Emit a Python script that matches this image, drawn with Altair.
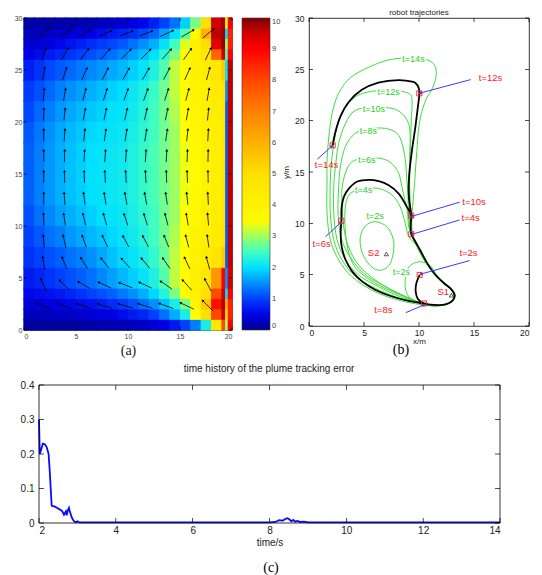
import altair as alt
import pandas as pd
import numpy as np

FONT = "Liberation Sans"
SERIF = "Liberation Serif"

# ---------------- (a) concentration field ----------------
heat_x_edges = [0, 1, 2, 3, 4, 5, 6, 7, 8, 9, 10, 11, 12, 13, 14, 15, 16, 17, 18, 19, 19.35, 19.6, 20]
heat_y_edges = [0, 1, 2, 3, 4, 6, 8, 10, 12, 14, 16, 18, 20, 22, 24, 26, 27, 28, 29, 30]
heat_values = [  # bottom row first; one value per x cell
    [0.1, 0.1, 0.1, 0.1, 0.1, 0.12, 0.15, 0.18, 0.2, 0.22, 0.25, 0.3, 0.4, 0.5, 0.7, 1.0, 1.4, 2.2, 4.5, 8.0, 3.0, 9.0],
    [0.25, 0.25, 0.28, 0.3, 0.32, 0.35, 0.4, 0.45, 0.5, 0.6, 0.7, 0.8, 1.0, 1.3, 1.7, 2.2, 3.3, 5.0, 8.0, 9.5, 5.0, 8.5],
    [0.4, 0.42, 0.45, 0.5, 0.55, 0.6, 0.65, 0.75, 0.85, 0.95, 1.1, 1.3, 1.5, 1.8, 2.2, 2.8, 3.8, 5.5, 8.8, 9.7, 6.0, 8.5],
    [0.55, 0.6, 0.65, 0.7, 0.8, 0.9, 1.0, 1.1, 1.2, 1.35, 1.5, 1.7, 1.95, 2.3, 2.8, 3.4, 4.2, 5.0, 8.0, 9.5, 2.0, 9.0],
    [0.7, 0.8, 0.9, 1.0, 1.1, 1.2, 1.3, 1.45, 1.6, 1.75, 1.9, 2.05, 2.25, 2.6, 3.1, 3.5, 4.2, 4.6, 6.5, 9.0, 1.5, 9.5],
    [0.9, 1.0, 1.1, 1.2, 1.3, 1.4, 1.5, 1.65, 1.8, 1.95, 2.05, 2.2, 2.4, 2.7, 3.1, 3.5, 4.0, 4.3, 4.8, 5.5, 1.2, 9.6],
    [1.0, 1.15, 1.3, 1.4, 1.55, 1.65, 1.75, 1.85, 1.95, 2.05, 2.15, 2.3, 2.5, 2.75, 3.05, 3.4, 3.9, 4.2, 4.4, 4.8, 1.2, 9.6],
    [1.1, 1.3, 1.45, 1.6, 1.7, 1.8, 1.9, 2.0, 2.05, 2.1, 2.2, 2.35, 2.5, 2.75, 3.0, 3.3, 3.7, 4.1, 4.3, 4.6, 1.2, 9.6],
    [1.2, 1.4, 1.55, 1.7, 1.8, 1.9, 2.0, 2.05, 2.1, 2.15, 2.25, 2.4, 2.55, 2.75, 3.0, 3.25, 3.6, 4.0, 4.2, 4.5, 1.2, 9.6],
    [1.2, 1.4, 1.55, 1.7, 1.8, 1.9, 2.0, 2.05, 2.1, 2.15, 2.25, 2.4, 2.55, 2.75, 3.0, 3.25, 3.5, 3.9, 4.2, 4.5, 1.2, 9.6],
    [1.2, 1.4, 1.55, 1.7, 1.8, 1.9, 2.0, 2.05, 2.1, 2.15, 2.25, 2.4, 2.55, 2.75, 3.0, 3.25, 3.6, 4.0, 4.2, 4.5, 1.2, 9.6],
    [1.15, 1.35, 1.5, 1.65, 1.75, 1.85, 1.95, 2.0, 2.05, 2.1, 2.2, 2.35, 2.5, 2.75, 3.0, 3.3, 3.7, 4.0, 4.2, 4.5, 1.2, 9.6],
    [1.05, 1.25, 1.4, 1.55, 1.65, 1.75, 1.85, 1.92, 2.0, 2.05, 2.15, 2.3, 2.5, 2.75, 3.05, 3.4, 3.8, 4.1, 4.3, 4.6, 1.2, 9.6],
    [0.95, 1.1, 1.25, 1.4, 1.5, 1.6, 1.7, 1.8, 1.9, 1.98, 2.1, 2.25, 2.45, 2.75, 3.1, 3.5, 3.9, 4.2, 4.4, 4.7, 1.5, 9.6],
    [0.75, 0.9, 1.05, 1.15, 1.25, 1.35, 1.45, 1.55, 1.65, 1.75, 1.9, 2.05, 2.25, 2.6, 3.1, 3.5, 4.0, 4.3, 4.6, 5.5, 2.0, 9.6],
    [0.5, 0.6, 0.7, 0.8, 0.9, 1.0, 1.1, 1.2, 1.3, 1.45, 1.6, 1.8, 2.0, 2.35, 2.8, 3.4, 4.0, 4.6, 7.5, 9.5, 2.5, 9.0],
    [0.35, 0.4, 0.45, 0.55, 0.65, 0.75, 0.85, 0.95, 1.05, 1.15, 1.3, 1.5, 1.7, 2.05, 2.5, 3.2, 4.0, 5.0, 9.3, 9.9, 3.0, 8.5],
    [0.22, 0.25, 0.3, 0.35, 0.4, 0.45, 0.5, 0.6, 0.7, 0.8, 0.9, 1.05, 1.25, 1.6, 2.0, 2.6, 3.6, 6.0, 9.6, 9.8, 2.0, 8.5],
    [0.12, 0.12, 0.12, 0.15, 0.15, 0.18, 0.2, 0.25, 0.3, 0.35, 0.45, 0.55, 0.75, 1.0, 1.3, 1.9, 2.8, 5.0, 9.5, 9.8, 4.0, 9.0],
]
cbar_stops = [0, 0.5, 1.0, 1.5, 2.0, 2.5, 3.0, 3.3, 5.0, 6.0, 7.0, 8.0, 9.0, 9.5, 10]
cbar_colors = ["#00008f", "#0000e6", "#0040ff", "#0090ff", "#00e0ff", "#40ffc0", "#a0ff60",
               "#ffff00", "#ffe000", "#ffb000", "#ff8000", "#ff4800", "#ff0000", "#d00000", "#800000"]
cbar_ticks = [0, 1, 2, 3, 4, 5, 6, 7, 8, 9, 10]

# velocity arrows: centres and directions (degrees, counter-clockwise from +x)
arrow_x = [1.9, 3.9, 5.8, 7.8, 9.8, 11.7, 13.7, 15.7, 17.7]
arrow_y = [2.3, 4.3, 6.4, 8.5, 10.6, 12.6, 14.7, 16.7, 18.7, 20.7, 22.6, 24.6, 26.5, 28.5]
arrow_len = [1.4, 1.3, 1.2, 1.15, 1.1, 1.1, 1.1, 1.1, 1.1, 1.1, 1.15, 1.2, 1.25, 1.3]
arrow_angle = [
    [158, 160, 162, 163, 163, 162, 160, 155, 135],
    [115, 135, 150, 155, 158, 155, 145, 132, 118],
    [100, 112, 122, 128, 132, 130, 125, 115, 105],
    [95, 103, 110, 115, 118, 118, 112, 105, 98],
    [92, 98, 103, 106, 108, 107, 104, 100, 95],
    [90, 94, 97, 99, 100, 100, 98, 96, 93],
    [90, 91, 92, 93, 93, 93, 92, 92, 91],
    [90, 88, 87, 86, 86, 86, 87, 88, 89],
    [89, 86, 84, 82, 81, 81, 82, 84, 87],
    [88, 84, 80, 78, 77, 77, 78, 80, 84],
    [85, 80, 75, 72, 70, 70, 72, 75, 80],
    [80, 72, 66, 62, 60, 60, 62, 66, 75],
    [70, 60, 52, 48, 45, 45, 48, 55, 65],
    [45, 35, 28, 25, 22, 22, 25, 30, 40],
]
a_xticks = [0, 5, 10, 15, 20]
a_yticks = [0, 5, 10, 15, 20, 25, 30]

# ---------------- (b) robot trajectories ----------------
tail_x = [9.8, 10.5, 11.3, 12.2, 12.9, 13.2, 13.0, 12.3, 11.3]
tail_y = [7.8, 6.4, 5.2, 4.3, 3.6, 3.0, 2.4, 2.05, 1.98]
c14_x = [10.3, 7.85, 5.7, 3.9, 2.7, 1.94, 1.64, 1.64, 1.64, 1.8, 2.1, 2.7, 3.9, 6.3, 8.0, 9.8, 11.0, 11.5, 11.55, 11.2, 10.7, 10.3, 10.0, 9.8, 9.6, 9.45, 9.35, 9.4]
c14_y = [2.05, 2.6, 3.5, 4.8, 6.43, 8.4, 11.0, 14.2, 16.2, 18.4, 20.7, 22.66, 24.3, 25.6, 26.05, 26.1, 25.8, 25.2, 24.3, 23.1, 22.2, 21.0, 19.5, 17.0, 14.0, 12.0, 10.5, 9.0]
c12_x = [10.3, 8.0, 6.03, 4.2, 3.0, 2.25, 1.94, 1.94, 2.1, 2.55, 3.3, 4.5, 6.0, 7.5, 9.06, 9.36, 9.3, 9.2, 9.15, 9.2, 9.2, 9.3]
c12_y = [2.15, 2.8, 3.67, 4.87, 6.43, 8.4, 11.0, 14.2, 16.5, 19.4, 21.35, 22.5, 22.9, 23.0, 22.66, 22.0, 20.0, 17.0, 14.0, 12.0, 10.5, 9.0]
c10_x = [10.3, 8.15, 6.33, 4.5, 3.3, 2.55, 2.25, 2.25, 2.4, 2.7, 3.3, 4.2, 5.9, 7.55, 8.45, 9.06, 9.2, 9.15, 9.1, 9.15, 9.15, 9.25]
c10_y = [2.2, 2.92, 3.83, 4.97, 6.5, 8.4, 11.0, 13.56, 15.5, 17.8, 19.7, 21.0, 21.3, 21.2, 20.7, 19.7, 18.4, 16.0, 14.0, 12.0, 10.5, 9.0]
c8_x = [10.3, 8.45, 6.64, 4.97, 3.75, 2.94, 2.64, 2.7, 2.85, 3.3, 4.2, 5.5, 6.94, 8.0, 8.45, 8.75, 8.9, 9.0, 9.05, 9.2]
c8_y = [2.2, 3.0, 4.0, 5.13, 6.7, 8.54, 11.0, 13.56, 15.5, 17.46, 18.76, 19.2, 19.25, 18.76, 17.8, 16.2, 14.2, 12.5, 11.0, 9.2]
c6_x = [10.3, 7.85, 6.03, 4.5, 3.6, 3.15, 3.0, 3.0, 3.3, 3.9, 5.2, 6.64, 7.55, 8.15, 8.45, 8.7, 8.95, 9.1]
c6_y = [2.2, 3.34, 4.48, 5.94, 7.7, 9.67, 12.27, 13.4, 14.87, 16.0, 16.35, 16.3, 15.8, 14.87, 13.56, 12.3, 11.2, 9.5]
c4_x = [10.3, 9.06, 7.24, 5.57, 4.2, 3.55, 3.3, 3.3, 3.75, 5.0, 6.33, 7.55, 8.3, 8.75, 9.06]
c4_y = [2.2, 2.7, 3.5, 4.48, 5.7, 7.4, 9.35, 11.6, 12.9, 13.35, 13.4, 12.76, 11.6, 10.0, 8.7]
s2_x = [6.03, 7.09, 7.64, 7.7, 7.39, 6.79, 6.03, 5.27, 4.76, 4.67, 5.12]
s2_y = [10.16, 9.67, 8.54, 7.4, 6.1, 5.52, 5.52, 6.26, 7.4, 8.7, 9.74]
s1_x = [11.6, 11.0, 10.2, 9.5, 9.0, 8.75, 8.8, 9.2, 10.0, 11.0, 12.2, 13.0, 13.3, 13.0, 12.3]
s1_y = [5.0, 5.9, 6.25, 6.1, 5.6, 4.6, 3.5, 2.7, 2.25, 2.0, 2.05, 2.4, 3.0, 3.6, 4.2]

path_x = [10.06, 9.76, 9.7, 9.9, 10.45, 11.36, 12.4, 13.1, 13.24, 12.94, 12.27, 11.5, 10.76, 10.1, 9.55, 9.3, 9.25, 9.3,
          8.9, 8.15, 7.25, 6.34, 5.45, 4.4, 3.64, 3.18, 2.97, 2.94, 2.88, 2.97, 3.33, 3.94, 4.85, 6.06, 7.42, 8.94, 10.45,
          11.36, 12.4, 13.1, 13.24, 12.94, 12.27, 11.5, 10.76, 10.1, 9.55, 9.3, 9.25, 9.3,
          9.1, 9.06, 9.15, 9.36, 9.67, 9.9, 10.03, 9.97, 9.7, 9.36, 8.15, 6.3, 4.8, 3.6, 2.85, 2.4, 2.15]
path_y = [4.97, 4.16, 3.35, 2.63, 2.2, 2.05, 2.1, 2.53, 3.0, 3.57, 4.16, 4.97, 6.1, 7.4, 8.45, 8.94, 10.0, 10.75,
          11.6, 12.9, 13.7, 14.1, 14.23, 14.07, 13.4, 12.6, 11.6, 10.24, 9.03, 7.73, 6.43, 5.3, 4.32, 3.51, 2.92, 2.47, 2.2,
          2.05, 2.1, 2.53, 3.0, 3.57, 4.16, 4.97, 6.1, 7.4, 8.45, 8.94, 10.0, 10.75,
          12.3, 13.56, 15.2, 17.1, 19.4, 21.35, 22.66, 23.2, 23.65, 23.8, 23.95, 23.7, 23.0, 21.8, 20.4, 18.9, 17.6]

green_labels = ["t=14s", "t=12s", "t=10s", "t=8s", "t=6s", "t=4s", "t=2s", "t=2s"]
green_lx = [9.5, 7.24, 5.9, 5.4, 5.27, 4.97, 6.0, 8.4]
green_ly = [26.0, 22.8, 21.1, 19.0, 16.2, 13.2, 10.7, 5.3]

mark_lab = ["t=2s", "t=4s", "t=6s", "t=8s", "t=10s", "t=12s", "t=14s"]
mark_x = [10.06, 9.3, 2.94, 10.45, 9.3, 10.03, 2.15]
mark_y = [4.97, 8.94, 10.24, 2.2, 10.75, 22.66, 17.6]
red_lx = [14.5, 14.7, 1.15, 6.76, 15.0, 16.5, 1.6]
red_ly = [7.1, 10.5, 8.03, 1.53, 12.1, 24.2, 15.7]
arr_x0 = [14.6, 13.7, 1.5, 8.8, 13.7, 14.7, 0.76]
arr_y0 = [6.37, 10.33, 8.7, 1.3, 12.06, 24.0, 16.25]
arr_x1 = [10.2, 9.4, 2.88, 10.45, 9.4, 10.15, 2.06]
arr_y1 = [5.07, 8.94, 10.07, 2.05, 10.7, 22.7, 17.5]

src_lab = ["S2", "S1"]
src_x = [7.03, 12.94]
src_y = [7.02, 3.0]
src_lx = [5.88, 12.2]
src_ly = [7.1, 3.3]
b_xticks = [0, 5, 10, 15, 20]
b_yticks = [0, 5, 10, 15, 20, 25, 30]

# ---------------- (c) tracking error ----------------
err_t = [2.0, 2.02, 2.05, 2.1, 2.15, 2.2, 2.25, 2.28, 2.31, 2.33, 2.4, 2.5, 2.6, 2.65, 2.7, 2.72, 2.75, 2.78, 2.8, 2.84,
         2.88, 2.92, 2.96, 3.0, 3.05, 3.1, 4.0, 5.0, 6.0, 7.0, 8.0, 8.15, 8.25, 8.35, 8.42, 8.47, 8.52, 8.57, 8.62, 8.67,
         8.72, 8.8, 8.9, 9.0, 10, 11, 12, 13, 14]
err_v = [0.30, 0.20, 0.21, 0.23, 0.228, 0.22, 0.2, 0.15, 0.09, 0.05, 0.048, 0.042, 0.035, 0.024, 0.034, 0.022, 0.036, 0.044, 0.035, 0.02,
         0.01, 0.004, 0.002, 0.005, 0.002, 0.002, 0.002, 0.002, 0.002, 0.002, 0.002, 0.003, 0.008, 0.007, 0.012, 0.014, 0.01, 0.005, 0.009, 0.004,
         0.006, 0.003, 0.004, 0.002, 0.002, 0.002, 0.002, 0.002, 0.002]
c_xticks = [2, 4, 6, 8, 10, 12, 14]
c_yticks = [0, 0.1, 0.2, 0.3, 0.4]


# ======================= helpers =======================
def inner_ticks(xvals, yvals, xs, ys, xax, yax, x_lo, x_hi, h, length=4):
    """MATLAB-style inward ticks on all four sides of a frame."""
    xd = pd.DataFrame(dict(v=xvals))
    yd = pd.DataFrame(dict(v=yvals))
    half = length / 2
    out = []
    for yy in (h - half, half):
        out.append(alt.Chart(xd).mark_tick(orient="vertical", size=length, thickness=0.7, color="black",
                                           opacity=1).encode(
            x=alt.X("v:Q", scale=xs, axis=xax), y=alt.value(yy)))
    for xx in (x_lo + half, x_hi - half):
        out.append(alt.Chart(yd).mark_tick(orient="horizontal", size=length, thickness=0.7, color="black",
                                           opacity=1).encode(
            y=alt.Y("v:Q", scale=ys, axis=yax), x=alt.value(xx)))
    return out


# ======================= build tables =======================
heat_rec = []
for j in range(len(heat_y_edges) - 1):
    for i in range(len(heat_x_edges) - 1):
        heat_rec.append(dict(x0=heat_x_edges[i], x1=heat_x_edges[i + 1],
                             y0=heat_y_edges[j], y1=heat_y_edges[j + 1], v=heat_values[j][i],
                             vs=heat_values[j][i]))
heat_df = pd.DataFrame(heat_rec)

arr_rec = []
for j, yy in enumerate(arrow_y):
    for i, xx in enumerate(arrow_x):
        a = np.radians(arrow_angle[j][i])
        L = arrow_len[j]
        arr_rec.append(dict(xa=xx - 0.5 * L * np.cos(a), ya=yy - 0.5 * L * np.sin(a),
                            xb=xx + 0.5 * L * np.cos(a), yb=yy + 0.5 * L * np.sin(a),
                            rot=(450 - arrow_angle[j][i]) % 360))
arr_df = pd.DataFrame(arr_rec)

# ---- panel a ----
AW, AH = 208, 312
a_xs = alt.Scale(domain=[0, 20], nice=False, zero=False)
a_ys = alt.Scale(domain=[0, 30], nice=False, zero=False)
a_xax = alt.Axis(values=a_xticks, title="(a)", titleFont=SERIF, titleFontSize=14,
                 titleFontWeight="normal", titlePadding=4, labelFontSize=7, ticks=False,
                 domain=False, grid=False, labelPadding=2, labelColor="#444")
a_yax = alt.Axis(values=a_yticks, title=None, labelFontSize=7, ticks=False,
                 domain=False, grid=False, labelPadding=2, labelColor="#444")
cscale = alt.Scale(domain=cbar_stops, range=cbar_colors, interpolate="rgb", clamp=True)
sscale = alt.Scale(domain=cbar_stops, range=cbar_colors, interpolate="rgb", clamp=True)

# under-layer: cell outlines in the cell colour (hides anti-aliasing seams between cells)
heat_under = alt.Chart(heat_df).mark_rect(strokeWidth=1.2, fillOpacity=0).encode(
    x=alt.X("x0:Q", scale=a_xs, axis=a_xax), x2="x1:Q",
    y=alt.Y("y0:Q", scale=a_ys, axis=a_yax), y2="y1:Q",
    stroke=alt.Stroke("vs:Q", scale=sscale, legend=None))
heat = alt.Chart(heat_df).mark_rect().encode(
    x=alt.X("x0:Q", scale=a_xs, axis=a_xax),
    x2="x1:Q",
    y=alt.Y("y0:Q", scale=a_ys, axis=a_yax),
    y2="y1:Q",
    color=alt.Color("v:Q", scale=cscale, legend=alt.Legend(
        type="gradient", orient="right", title=None, direction="vertical", gradientLength=312,
        gradientThickness=28, offset=10, padding=0, labelFontSize=7.5, labelColor="#444",
        labelFont=FONT, values=cbar_ticks, labelOverlap=False, gradientStrokeColor="#333",
        gradientStrokeWidth=0.6, labelOffset=2)),
)
shafts = alt.Chart(arr_df).mark_rule(color="black", strokeWidth=0.8).encode(
    x=alt.X("xa:Q", scale=a_xs, axis=a_xax), y=alt.Y("ya:Q", scale=a_ys, axis=a_yax),
    x2="xb:Q", y2="yb:Q")
heads = alt.Chart(arr_df).mark_point(shape="triangle", filled=True, size=9, color="black", opacity=1).encode(
    x=alt.X("xb:Q", scale=a_xs, axis=a_xax), y=alt.Y("yb:Q", scale=a_ys, axis=a_yax),
    angle=alt.Angle("rot:Q", scale=None))
panel_a = alt.layer(heat_under, heat, shafts, heads,
                    *inner_ticks(a_xticks, a_yticks, a_xs, a_ys, a_xax, a_yax, 0, AW, AH, 3)).properties(
    width=AW, height=AH).resolve_legend(stroke="independent", color="independent")

# ---- panel b ----
BW, BH = 220, 308
cont_rec = []
for name, cx, cy in [("c14", c14_x + tail_x, c14_y + tail_y), ("c12", c12_x + tail_x, c12_y + tail_y),
                     ("c10", c10_x + tail_x, c10_y + tail_y), ("c8", c8_x + tail_x, c8_y + tail_y),
                     ("c6", c6_x + tail_x, c6_y + tail_y), ("c4", c4_x + tail_x, c4_y + tail_y),
                     ("s2", s2_x, s2_y), ("s1", s1_x, s1_y)]:
    for k, (px, py) in enumerate(zip(cx, cy)):
        cont_rec.append(dict(c=name, i=k, x=px, y=py))
cont_df = pd.DataFrame(cont_rec)
path_df = pd.DataFrame(dict(i=range(len(path_x)), x=path_x, y=path_y))
glab_df = pd.DataFrame(dict(t=green_labels, x=green_lx, y=green_ly))
mk_df = pd.DataFrame(dict(t=mark_lab, x=mark_x, y=mark_y, lx=red_lx, ly=red_ly,
                          x0=arr_x0, y0=arr_y0, x1=arr_x1, y1=arr_y1))
mk_df["rot"] = (90 - np.degrees(np.arctan2((mk_df.y1 - mk_df.y0) * BH / 30,
                                            (mk_df.x1 - mk_df.x0) * BW / 20))) % 360
src_df = pd.DataFrame(dict(t=src_lab, x=src_x, y=src_y, lx=src_lx, ly=src_ly))

b_xs = alt.Scale(domain=[0, 20], nice=False, zero=False)
b_ys = alt.Scale(domain=[0, 30], nice=False, zero=False)
b_xax = alt.Axis(values=b_xticks, title="x/m", titleFontSize=8, titleFontWeight="normal",
                 titlePadding=1, labelFontSize=8.5, ticks=False, domain=False, grid=False, labelPadding=2)
b_yax = alt.Axis(values=b_yticks, title="y/m", titleFontSize=8, titleFontWeight="normal",
                 titlePadding=4, labelFontSize=8.5, ticks=False, domain=False, grid=False, labelPadding=5)


def bxy(xf, yf):
    return dict(x=alt.X(xf, scale=b_xs, axis=b_xax), y=alt.Y(yf, scale=b_ys, axis=b_yax))


GREEN = "#3ddc3d"
greens = alt.Chart(cont_df).mark_line(color=GREEN, strokeWidth=1, interpolate="cardinal-closed").encode(
    **bxy("x:Q", "y:Q"), detail="c:N", order="i:Q")
blackpath = alt.Chart(path_df).mark_line(color="black", strokeWidth=1.8, interpolate="catmull-rom").encode(
    **bxy("x:Q", "y:Q"), order="i:Q")
ghalo = alt.Chart(glab_df).mark_text(fontSize=9, font=FONT, color="white", stroke="white", strokeWidth=3).encode(
    **bxy("x:Q", "y:Q"), text="t:N")
gtext = alt.Chart(glab_df).mark_text(fontSize=9, font=FONT, color="#22d022").encode(
    **bxy("x:Q", "y:Q"), text="t:N")
blue_r = alt.Chart(mk_df).mark_rule(color="#3a3aff", strokeWidth=1).encode(
    **bxy("x0:Q", "y0:Q"), x2="x1:Q", y2="y1:Q")
blue_h = alt.Chart(mk_df).mark_point(shape="triangle", filled=True, size=14, color="#3a3aff", opacity=1).encode(
    **bxy("x1:Q", "y1:Q"), angle=alt.Angle("rot:Q", scale=None))
squares = alt.Chart(mk_df).mark_point(shape="square", size=26, color="#ff2020", strokeWidth=0.9, opacity=1).encode(
    **bxy("x:Q", "y:Q"))
rtext = alt.Chart(mk_df).mark_text(fontSize=9.5, font=FONT, color="#ff2020").encode(
    **bxy("lx:Q", "ly:Q"), text="t:N")
tri = alt.Chart(src_df).mark_point(shape="triangle-up", size=18, color="#333", strokeWidth=0.8, opacity=1).encode(
    **bxy("x:Q", "y:Q"))
stext = alt.Chart(src_df).mark_text(fontSize=9.5, font=FONT, color="#ff2020").encode(
    **bxy("lx:Q", "ly:Q"), text="t:N")
blab = alt.Chart(pd.DataFrame(dict(t=["(b)"]))).mark_text(font=SERIF, fontSize=14, color="black").encode(
    x=alt.value(92), y=alt.value(332), text="t:N")
panel_b = alt.layer(greens, blackpath, ghalo, gtext, blue_r, blue_h, squares, rtext, tri, stext, blab,
                    *inner_ticks(b_xticks, b_yticks, b_xs, b_ys, b_xax, b_yax, 0, BW, BH, 4)).properties(
    width=BW, height=BH,
    title=alt.TitleParams("robot trajectories", fontSize=8, fontWeight="normal", font=FONT, offset=-3, color="#222"))

# ---- panel c ----
CW, CH, CL = 476, 138, 15   # full width, height, left inset of the frame
err_df = pd.DataFrame(dict(t=err_t, e=err_v))
c_xs = alt.Scale(domain=[2, 14], nice=False, zero=False, range=[CL, CW])
c_ys = alt.Scale(domain=[0, 0.4], nice=False, zero=False)
c_xax = alt.Axis(values=c_xticks, title="time/s", titleFontSize=10, titleFontWeight="normal",
                 titlePadding=2, labelFontSize=10, ticks=False, domain=False, grid=False, labelPadding=2,
                 titleX=CL + (CW - CL) / 2)
c_yax = alt.Axis(values=c_yticks, format=".1~f", title=None, labelFontSize=10, ticks=False,
                 domain=False, grid=False, labelPadding=5, offset=-CL)
eline = alt.Chart(err_df).mark_line(color="#0a0aff", strokeWidth=1.8).encode(
    x=alt.X("t:Q", scale=c_xs, axis=c_xax), y=alt.Y("e:Q", scale=c_ys, axis=c_yax))
cframe = alt.Chart(pd.DataFrame(dict(k=[0]))).mark_rect(fillOpacity=0, stroke="black", strokeWidth=0.8).encode(
    x=alt.value(CL), x2=alt.value(CW), y=alt.value(0), y2=alt.value(CH))
clab = alt.Chart(pd.DataFrame(dict(t=["(c)"]))).mark_text(font=SERIF, fontSize=14, color="black").encode(
    x=alt.value(CL + 232), y=alt.value(183), text="t:N")
panel_c = alt.layer(eline, cframe, clab,
                    *inner_ticks(c_xticks, c_yticks, c_xs, c_ys, c_xax, c_yax, CL, CW, CH, 5)).properties(
    width=CW, height=CH, view=alt.ViewBackground(stroke="transparent"),
    title=alt.TitleParams("time history of the plume tracking error", fontSize=10, fontWeight="normal",
                          font=FONT, offset=6, color="#222", dx=7))

top_row = alt.hconcat(panel_a, panel_b, spacing=0).resolve_scale(color="independent", stroke="independent")
bottom_row = alt.hconcat(panel_c)
chart = alt.vconcat(top_row, bottom_row, spacing=5).properties(
    padding={"left": 5, "top": 0, "right": 0, "bottom": 0}).configure_view(
    stroke="black", strokeWidth=0.8).configure_axis(labelFont=FONT, titleFont=FONT, labelColor="#222",
                                                     titleColor="#222")

chart.save("out.html", embed_options={"renderer": "svg", "actions": False})
